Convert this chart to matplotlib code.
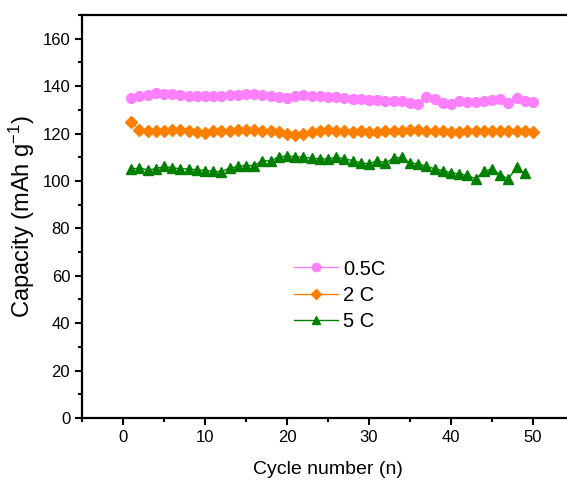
import matplotlib
matplotlib.use("Agg")
import matplotlib.pyplot as plt
from matplotlib.ticker import MultipleLocator

plt.rcParams['font.family'] = ['Liberation Sans', 'DejaVu Sans']
plt.rcParams['mathtext.fontset'] = 'custom'
plt.rcParams['mathtext.rm'] = 'Liberation Sans'
plt.rcParams['mathtext.it'] = 'Liberation Sans'

cycles_05 = list(range(1, 51))
cap_05 = [135.0, 135.8, 136.3, 137.0, 136.8, 136.5, 136.2, 136.0, 135.9, 135.9,
          135.9, 136.0, 136.2, 136.3, 136.5, 136.6, 136.4, 135.8, 135.3, 134.8,
          135.8, 136.3, 136.0, 136.0, 135.3, 135.3, 134.9, 134.5, 134.6, 134.3,
          134.0, 133.9, 133.9, 133.9, 132.9, 132.6, 135.3, 134.6, 132.9, 132.6,
          133.9, 133.5, 133.5, 133.9, 134.3, 134.6, 132.9, 135.0, 133.9, 133.3]

cycles_2 = list(range(1, 51))
cap_2 = [125.0, 121.5, 121.2, 121.2, 121.0, 121.5, 121.5, 121.0, 120.6, 120.4,
         121.0, 121.0, 121.2, 121.5, 121.5, 121.4, 121.0, 121.0, 120.5, 120.0,
         119.4, 120.0, 120.6, 121.0, 121.5, 121.2, 121.0, 120.6, 121.0, 120.6,
         120.6, 121.0, 121.0, 121.2, 121.5, 121.5, 121.0, 121.0, 121.0, 120.6,
         120.6, 121.0, 121.0, 121.0, 121.0, 121.0, 121.0, 121.0, 121.0, 120.6]

cycles_5 = list(range(1, 50))
cap_5 = [105.1, 105.4, 104.7, 105.1, 106.1, 105.6, 105.1, 105.1, 104.7, 104.4,
         104.1, 103.9, 105.4, 106.1, 106.5, 106.5, 108.6, 108.4, 110.2, 110.5,
         110.2, 110.0, 109.6, 109.3, 109.3, 110.0, 109.3, 108.6, 107.6, 107.2,
         108.6, 107.6, 109.6, 110.0, 107.6, 107.2, 106.2, 105.1, 104.4, 103.4,
         103.0, 102.3, 100.9, 104.0, 105.1, 102.6, 100.9, 105.8, 103.2]

labels = ['0.5C', '2 C', '5 C']

W, H = 567, 482
fig = plt.figure(figsize=(W / 100, H / 100), dpi=100)
left, bottom, top = 82, 418, 15
width_px = 492
ax = fig.add_axes([left / W, 1 - bottom / H, width_px / W, (bottom - top) / H])

ax.plot(cycles_05, cap_05, '-o', color='#FF80FF', ms=7, mec='#FF80FF', lw=1, label=labels[0])
ax.plot(cycles_2, cap_2, '-D', color='#FF8000', ms=6.5, mec='#FF8000', lw=1, label=labels[1])
ax.plot(cycles_5, cap_5, '-^', color='#008000', ms=7.5, mec='#008000', lw=1, label=labels[2])

ax.set_xlim(-5, 55)
ax.set_ylim(0, 170)
ax.xaxis.set_major_locator(MultipleLocator(10))
ax.xaxis.set_minor_locator(MultipleLocator(5))
ax.yaxis.set_major_locator(MultipleLocator(20))
ax.yaxis.set_minor_locator(MultipleLocator(10))
for s in ax.spines.values():
    s.set_linewidth(1.6)
ax.tick_params(which='major', direction='out', length=5, width=1.5, labelsize=12)
ax.tick_params(which='minor', direction='out', length=3, width=1.5)

ax.set_xlabel('Cycle number (n)', fontsize=14, labelpad=12)
ax.set_ylabel('Capacity (mAh g$^{-1}$)', fontsize=17, labelpad=4)

leg = ax.legend(loc='center', bbox_to_anchor=(0.524, 0.305), frameon=False,
                fontsize=14.5, handlelength=2.15, handletextpad=0.25, labelspacing=0.35,
                borderaxespad=0, markerscale=0.85)

fig.savefig('out.png', dpi=100)
